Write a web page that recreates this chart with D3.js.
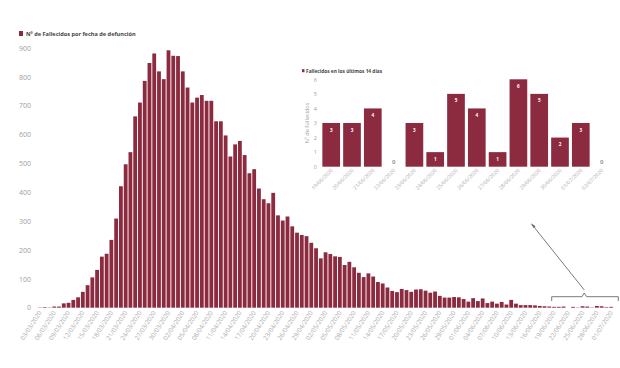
<!DOCTYPE html>
<html><head><meta charset="utf-8">
<script src="https://cdn.jsdelivr.net/npm/d3@7"></script>
<style>body{margin:0;background:#fff}svg{display:block}text{font-family:"Open Sans",Lato,sans-serif}</style>
</head><body>
<script>
// ---- data ----
const startDate = "2020-03-03";
const deaths = [1,2,1,4,4,15,17,27,36,55,78,105,131,177,187,235,309,421,497,539,663,711,786,848,881,819,792,892,873,872,819,763,711,728,737,717,717,646,646,597,524,566,578,529,466,480,413,376,362,398,320,302,316,282,260,252,248,225,206,171,192,186,178,176,148,159,140,121,106,119,108,89,84,70,58,54,65,61,55,63,64,59,52,56,41,35,35,37,36,30,21,33,23,32,16,21,14,20,11,27,14,9,9,9,8,6,5,4,3,3,4,0,3,1,5,4,1,6,5,2,3,0];
const yTicks = [0,100,200,300,400,500,600,700,800,900];
const insetDates = ["19/06/2020","20/06/2020","21/06/2020","22/06/2020","23/06/2020","24/06/2020","25/06/2020","26/06/2020","27/06/2020","28/06/2020","29/06/2020","30/06/2020","01/07/2020","02/07/2020"];
const insetValues = [3,3,4,0,3,1,5,4,1,6,5,2,3,0];
const insetTicks = [0,1,2,3,4,5,6];
const mainLegend = "Nº de Fallecidos por fecha de defunción";
const insetLegend = "Fallecidos en los últimos 14 días";
const insetYTitle = "Nº de Fallecidos";

const color = "#8c2b3f";
const fmt = d3.timeFormat("%d/%m/%Y");
const t0 = d3.timeParse("%Y-%m-%d")(startDate);
const dates = deaths.map((d,i)=>fmt(d3.timeDay.offset(t0,i)));

const svg = d3.select("body").append("svg").attr("width",620).attr("height",368);

// ---- main chart ----
const x = d3.scaleBand().domain(dates).range([37.6,618.3]).paddingInner(0.2).paddingOuter(0.1);
const y = d3.scaleLinear().domain([0,900]).range([307.7,48]);

svg.append("g").selectAll("rect").data(deaths).join("rect")
  .attr("x",(d,i)=>x(dates[i])).attr("width",x.bandwidth())
  .attr("y",d=>y(d)).attr("height",d=>y(0)-y(d)).attr("fill",color);

const ya = svg.append("g").attr("transform","translate(31,0)")
  .call(d3.axisLeft(y).tickValues(yTicks).tickSize(0).tickPadding(0));
ya.select(".domain").remove();
ya.selectAll("text").attr("fill","#a0a0a0").style("font-size","7px");

const xa = svg.append("g").attr("transform",`translate(0,${y(0)})`)
  .call(d3.axisBottom(x).tickValues(dates.filter((d,i)=>i%3===0)).tickSize(0).tickPadding(0));
xa.select(".domain").remove();
xa.selectAll("text").attr("fill","#ababab").style("font-size","6.3px")
  .attr("text-anchor","end").attr("dy","0").attr("dx","0")
  .attr("transform","translate(2,5) rotate(-57)");

// legend
svg.append("rect").attr("x",19).attr("y",31).attr("width",4).attr("height",5).attr("fill",color);
svg.append("text").attr("x",26).attr("y",35.8).text(mainLegend)
  .attr("fill","#444").style("font-size","5.6px").style("font-weight","bold");

// bracket + arrow
const br = svg.append("g").attr("stroke","#6b6b6b").attr("fill","none").attr("stroke-width",0.9);
br.append("path").attr("d","M551.7,301 L551.7,296.7 L582,296.7 L584.3,293 L586.6,296.7 L618.3,296.7 L618.3,301");
br.append("line").attr("x1",584.3).attr("y1",290).attr("x2",532).attr("y2",224.5);
svg.append("path").attr("d","M531,223.3 L535.6,226.2 L533.4,228 Z").attr("fill","#6b6b6b");

// ---- inset ----
const xi = d3.scaleBand().domain(insetDates).range([320.8,612]).paddingInner(0.15).paddingOuter(0.075);
const yi = d3.scaleLinear().domain([0,6]).range([166.7,79.3]);

svg.append("g").selectAll("rect").data(insetValues).join("rect")
  .attr("x",(d,i)=>xi(insetDates[i])).attr("width",xi.bandwidth())
  .attr("y",d=>yi(d)).attr("height",d=>yi(0)-yi(d)).attr("fill",color);

svg.append("g").selectAll("text").data(insetValues).join("text")
  .attr("x",(d,i)=>xi(insetDates[i])+xi.bandwidth()/2)
  .attr("y",d=>d>0?yi(d)+8.5:yi(0)-3)
  .attr("text-anchor","middle")
  .attr("fill",d=>d>0?"#fff":"#999")
  .style("font-size",d=>d>0?"4.6px":"6px").style("font-weight","bold")
  .text(d=>d);

const yia = svg.append("g").attr("transform","translate(317,0)")
  .call(d3.axisLeft(yi).tickValues(insetTicks).tickFormat(d3.format("d")).tickSize(0).tickPadding(0));
yia.select(".domain").remove();
yia.selectAll("text").attr("fill","#a0a0a0").style("font-size","5.5px");

const xia = svg.append("g").attr("transform",`translate(0,${yi(0)})`)
  .call(d3.axisBottom(xi).tickSize(0).tickPadding(0));
xia.select(".domain").remove();
xia.selectAll("text").attr("fill","#ababab").style("font-size","5.2px")
  .attr("text-anchor","end").attr("dy","0")
  .attr("transform","translate(2,4) rotate(-45)");

svg.append("text").attr("transform","translate(309,123) rotate(-90)")
  .attr("text-anchor","middle").attr("fill","#a0a0a0").style("font-size","5.5px").text(insetYTitle);

svg.append("rect").attr("x",302).attr("y",69.2).attr("width",2.5).attr("height",3).attr("fill",color);
svg.append("text").attr("x",306).attr("y",72.5).text(insetLegend)
  .attr("fill","#444").style("font-size","4.8px").style("font-weight","bold");
</script>
</body></html>
